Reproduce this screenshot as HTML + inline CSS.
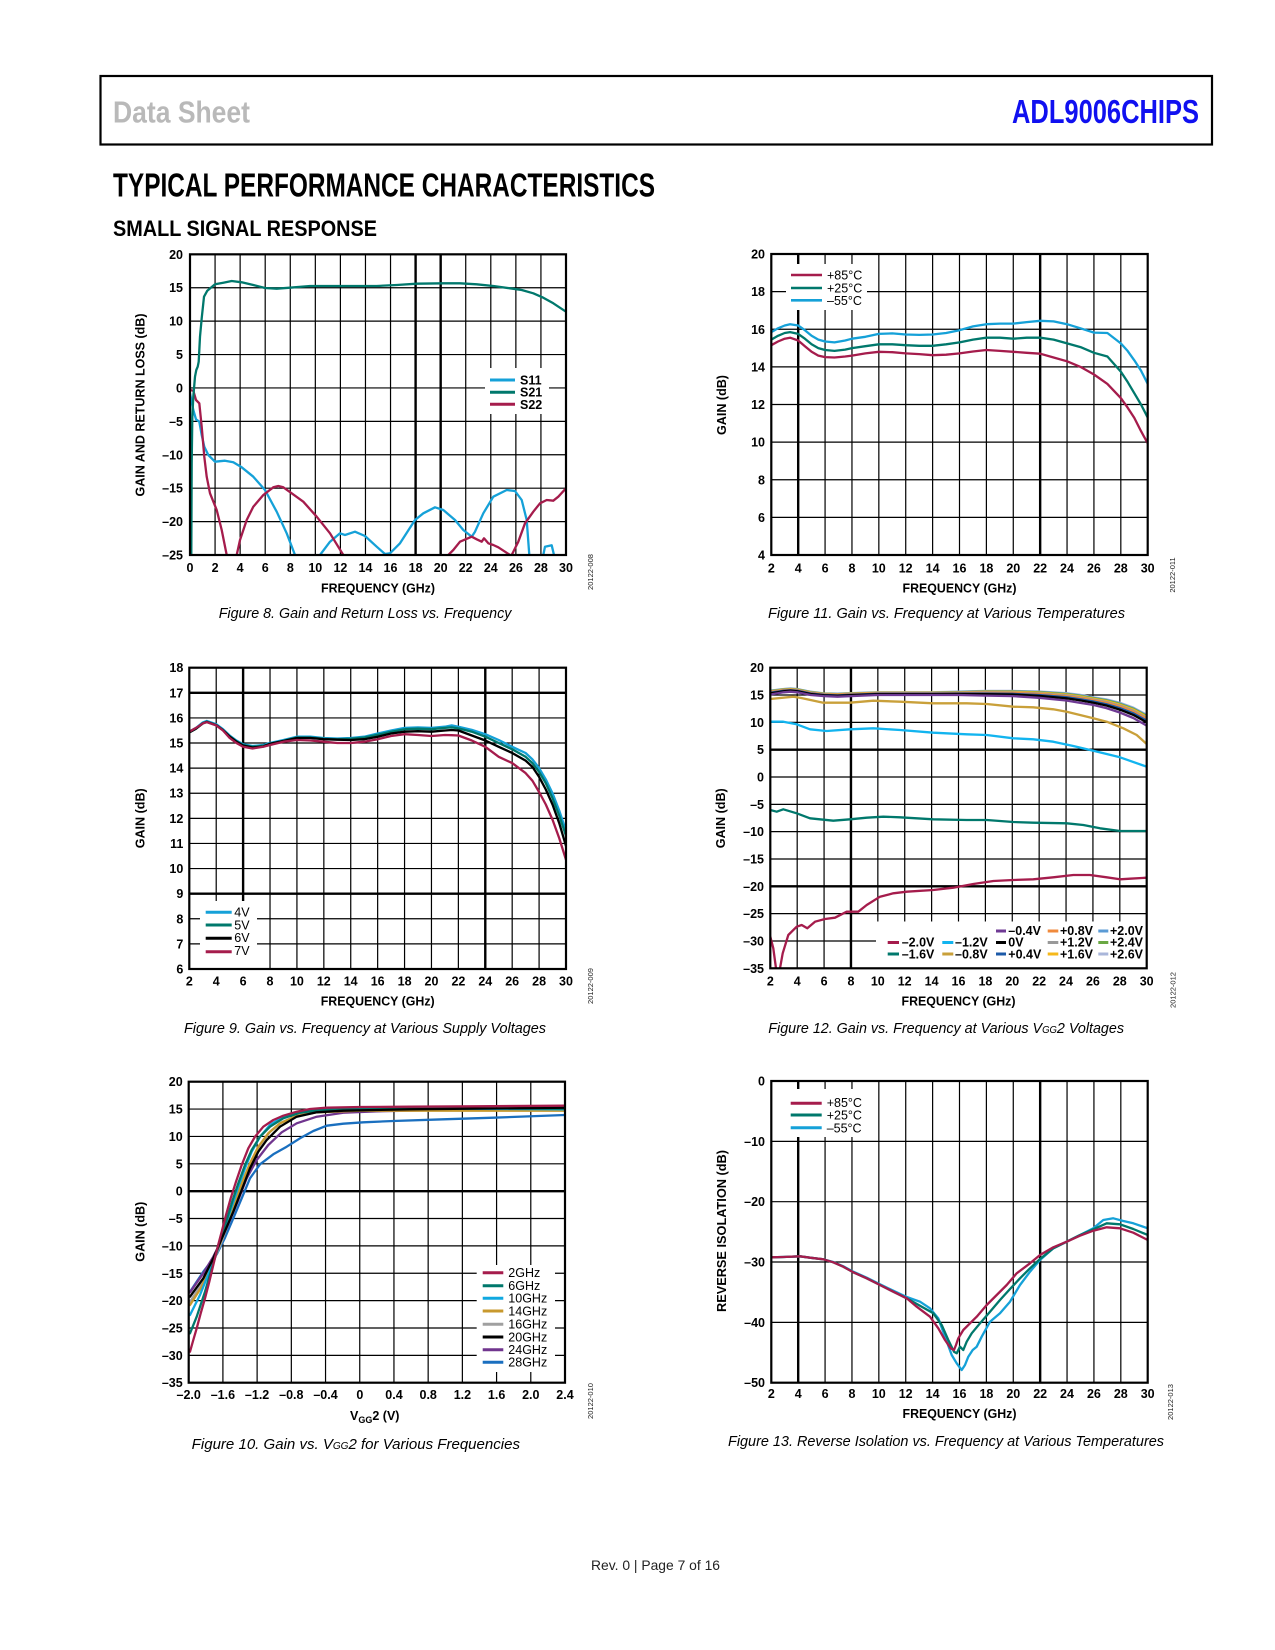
<!DOCTYPE html>
<html><head><meta charset="utf-8"><style>
html,body{margin:0;padding:0;background:#fff;}
svg{display:block;}
text{font-family:"Liberation Sans",Arial,sans-serif;fill:#000;}
.tk{font-size:12.5px;font-weight:bold;}
.ax{font-size:12.5px;font-weight:bold;}
.lg{font-size:12.5px;}
.lgb{font-size:12.5px;font-weight:bold;}
.cap{font-size:15px;font-style:italic;}
.fn{font-size:7.5px;fill:#222;}
.g{stroke:#000;stroke-width:1.2;fill:none;}
.gt{stroke:#000;stroke-width:2.4;fill:none;}
.bd{stroke:#000;stroke-width:2.2;fill:none;}
.c{fill:none;stroke-width:2.3;stroke-linejoin:round;stroke-linecap:round;}
</style></head><body>
<svg width="1275" height="1650" viewBox="0 0 1275 1650" xmlns="http://www.w3.org/2000/svg">
<defs>
<clipPath id="c8"><rect x="190" y="254.33" width="376" height="300.67"/></clipPath>
<clipPath id="c11"><rect x="771.3" y="254" width="376.4" height="301"/></clipPath>
<clipPath id="c9"><rect x="189.3" y="667.7" width="376.7" height="301.3"/></clipPath>
<clipPath id="c12"><rect x="770.3" y="667.7" width="376.4" height="300.6"/></clipPath>
<clipPath id="c10"><rect x="188.7" y="1081.7" width="376.3" height="301"/></clipPath>
<clipPath id="c13"><rect x="771.3" y="1081" width="376.4" height="301.7"/></clipPath>
</defs>
<rect width="1275" height="1650" fill="#fff"/>

<!-- Header -->
<rect x="100.5" y="76" width="1111.5" height="68.5" fill="none" stroke="#000" stroke-width="2.2"/>
<text x="113" y="122.5" style="font-size:31px;font-weight:bold;fill:#b9b9b9" textLength="137" lengthAdjust="spacingAndGlyphs">Data Sheet</text>
<text x="1012" y="123" style="font-size:33px;font-weight:bold;fill:#1010f0" textLength="187" lengthAdjust="spacingAndGlyphs">ADL9006CHIPS</text>
<text x="113" y="196.7" style="font-size:33px;font-weight:bold" textLength="542" lengthAdjust="spacingAndGlyphs">TYPICAL PERFORMANCE CHARACTERISTICS</text>
<text x="113" y="236" style="font-size:22px;font-weight:bold" textLength="264" lengthAdjust="spacingAndGlyphs">SMALL SIGNAL RESPONSE</text>

<!-- ================= Chart 8 ================= -->
<g class="g"><path d="M215.07 254.33V555M240.13 254.33V555M265.2 254.33V555M290.27 254.33V555M315.33 254.33V555M340.4 254.33V555M365.47 254.33V555M390.53 254.33V555M465.73 254.33V555M490.8 254.33V555M515.87 254.33V555M540.93 254.33V555M190 287.74H566M190 321.15H566M190 354.55H566M190 387.96H566M190 421.37H566M190 454.78H566M190 488.18H566M190 521.59H566"/></g>
<g class="gt"><path d="M415.6 254.33V555M440.67 254.33V555"/></g>
<rect x="485" y="368" width="64" height="46" fill="#fff"/>
<g clip-path="url(#c8)">
<polyline class="c" stroke="#15a1d8" points="190,393.3 193.3,410 196,419.3 199.3,421.7 201.7,435 204.3,446.7 208.3,455 215,461.7 225,460.7 233.3,462.3 241.7,467.3 253.3,476.7 265,490 276.7,511.7 286.7,533.3 295,555 307,575 320,555 330,541.7 340,533.3 345,535 355,531.7 365,536 376.7,546.7 385,554 390,553.3 400,543.3 415,520 423.3,513.3 435,507.3 443.3,510 455,520 463.3,530 471.7,536.7 475,531.7 483.3,513.3 493.3,496.7 506.7,490 515,491 521.7,500 526.7,520 529.3,555 536,580 543.3,555 545,546.7 551.7,545.3 554,555 556,570"/>
<polyline class="c" stroke="#a51c4c" points="190,390 193.3,390.7 196,400 199.3,403.3 201.7,426.7 204.3,456.7 206.7,476.7 210,493.3 216.7,510 221.7,530 226.7,555 231.7,575 236.7,555 240,540 246.7,520 253.3,506.7 263.3,495 273.3,487.3 278.3,486 283.3,487.3 291.7,493.3 303.3,501.7 316.7,516.7 330,533.3 343.3,555 395,600 448.3,555 453.3,550 460,541.7 471.7,536.7 476.7,539.3 481.7,541.7 484,538.3 488.3,543.3 493.3,545 498.3,547.3 505,551.7 510,555 511,558 511.7,555 518.3,541.7 525,523.3 533.3,511.7 540,503.3 546.7,500 553.3,500.7 558.3,496.7 566,488.3"/>
<polyline class="c" stroke="#00786c" points="191,580 191.3,555 191.7,463.3 192.3,416.7 193.3,396.7 195,376.7 196.3,370 197.7,366.7 198.7,361.7 200,336.7 201.7,318.3 204,296.7 207.3,290.7 215,284.3 223.3,282.7 231.7,281 241.7,282.3 253.3,285 265,288 276.7,288.7 290,287.7 310,286 343.3,286 376.7,286 396.7,285 416.7,283.7 443.3,283.3 460,283.3 476.7,284.3 493.3,286 510,288.3 521.7,290 533.3,293.3 543.3,297.7 553.3,303.3 566,311.7"/>
</g>
<g stroke-width="3"><path d="M490 380H515" stroke="#15a1d8"/><path d="M490 392.3H515" stroke="#00786c"/><path d="M490 404.3H515" stroke="#a51c4c"/></g>
<text class="lgb" x="520" y="384.5">S11</text><text class="lgb" x="520" y="396.7">S21</text><text class="lgb" x="520" y="409">S22</text>
<rect class="bd" x="190" y="254.33" width="376" height="300.67"/>
<g class="tk" text-anchor="end"><text x="183" y="258.8">20</text><text x="183" y="292.2">15</text><text x="183" y="325.7">10</text><text x="183" y="359.1">5</text><text x="183" y="392.5">0</text><text x="183" y="425.9">–5</text><text x="183" y="459.3">–10</text><text x="183" y="492.7">–15</text><text x="183" y="526.1">–20</text><text x="183" y="559.5">–25</text></g>
<g class="tk" text-anchor="middle"><text x="190" y="572">0</text><text x="215.1" y="572">2</text><text x="240.1" y="572">4</text><text x="265.2" y="572">6</text><text x="290.3" y="572">8</text><text x="315.3" y="572">10</text><text x="340.4" y="572">12</text><text x="365.5" y="572">14</text><text x="390.5" y="572">16</text><text x="415.6" y="572">18</text><text x="440.7" y="572">20</text><text x="465.7" y="572">22</text><text x="490.8" y="572">24</text><text x="515.9" y="572">26</text><text x="540.9" y="572">28</text><text x="566" y="572">30</text></g>
<text class="ax" x="378" y="592.3" text-anchor="middle" textLength="114" lengthAdjust="spacingAndGlyphs">FREQUENCY (GHz)</text>
<text class="ax" transform="translate(140,405) rotate(-90)" y="4.5" text-anchor="middle" textLength="183" lengthAdjust="spacingAndGlyphs">GAIN AND RETURN LOSS (dB)</text>
<text class="fn" transform="translate(590,572) rotate(-90)" y="3" text-anchor="middle">20122-008</text>
<text class="cap" x="218.7" y="618" textLength="292.7" lengthAdjust="spacingAndGlyphs">Figure 8. Gain and Return Loss vs. Frequency</text>

<!-- ================= Chart 11 ================= -->
<g class="g"><path d="M825.07 254V555M851.96 254V555M878.84 254V555M905.73 254V555M932.62 254V555M959.5 254V555M986.39 254V555M1013.27 254V555M1067.05 254V555M1093.93 254V555M1120.82 254V555M771.3 291.63H1147.7M771.3 329.25H1147.7M771.3 366.88H1147.7M771.3 404.5H1147.7M771.3 442.13H1147.7M771.3 479.75H1147.7M771.3 517.38H1147.7"/></g>
<g class="gt"><path d="M798.19 254V555M1040.16 254V555"/></g>
<rect x="786" y="264" width="81" height="46" fill="#fff"/>
<g clip-path="url(#c11)">
<polyline class="c" stroke="#15a1d8" points="771.3,332.1 778,328.3 784.7,325.5 790.1,324.2 798.2,325.5 804.9,330.2 811.6,335.8 818.3,339.6 825.1,341.5 834.5,342.4 845.2,340.5 852,338.7 865.4,336.8 878.8,333.9 892.3,333.4 905.7,334.5 919.2,334.9 932.6,334.5 946.1,333 959.5,330.2 973,326.4 986.4,324.2 999.9,323.6 1013.3,323.6 1026.7,322.1 1040.2,320.8 1053.6,321.4 1067.1,324.2 1080.5,328.3 1094,332.6 1107.4,333 1120.8,343.4 1127.6,350.9 1134.3,360.3 1141,370.6 1147.7,383.8"/>
<polyline class="c" stroke="#00786c" points="771.3,339.6 778,335.8 784.7,333 790.1,332.1 798.2,333.9 804.9,338.7 811.6,344.3 818.3,348.1 825.1,350 834.5,350.9 845.2,349.6 852,348.1 865.4,346.2 878.8,344.3 892.3,344.3 905.7,345.2 919.2,345.8 932.6,345.8 946.1,344.3 959.5,342.4 973,339.6 986.4,337.7 999.9,337.7 1013.3,338.7 1026.7,337.7 1040.2,337.7 1053.6,339.6 1067.1,343.4 1080.5,347.1 1094,352.8 1107.4,356.5 1120.8,371.6 1127.6,381.9 1134.3,393.2 1141,404.5 1147.7,417.6"/>
<polyline class="c" stroke="#a51c4c" points="771.3,345.2 778,341.5 784.7,338.7 790.1,337.7 798.2,340.5 804.9,346.2 811.6,351.8 818.3,355.6 825.1,357.1 834.5,357.5 845.2,356.5 852,355.6 865.4,353.4 878.8,351.8 892.3,352.2 905.7,353.4 919.2,354.1 932.6,355.2 946.1,354.7 959.5,353.4 973,351.5 986.4,350 999.9,350.9 1013.3,351.8 1026.7,352.8 1040.2,353.7 1053.6,357.5 1067.1,361.3 1080.5,366.9 1094,374.5 1107.4,383.9 1120.8,398.1 1127.6,407.6 1134.3,417.9 1141,431.1 1147.7,443.3"/>
</g>
<g stroke-width="2.6"><path d="M791 275H822" stroke="#a51c4c"/><path d="M791 288H822" stroke="#00786c"/><path d="M791 300.3H822" stroke="#15a1d8"/></g>
<text class="lg" x="827" y="279.5">+85°C</text><text class="lg" x="827" y="292.5">+25°C</text><text class="lg" x="827" y="305">–55°C</text>
<rect class="bd" x="771.3" y="254" width="376.4" height="301"/>
<g class="tk" text-anchor="end"><text x="765" y="258.5">20</text><text x="765" y="296.1">18</text><text x="765" y="333.8">16</text><text x="765" y="371.4">14</text><text x="765" y="409">12</text><text x="765" y="446.6">10</text><text x="765" y="484.3">8</text><text x="765" y="521.9">6</text><text x="765" y="559.5">4</text></g>
<g class="tk" text-anchor="middle"><text x="771.3" y="572.3">2</text><text x="798.2" y="572.3">4</text><text x="825.1" y="572.3">6</text><text x="852" y="572.3">8</text><text x="878.8" y="572.3">10</text><text x="905.7" y="572.3">12</text><text x="932.6" y="572.3">14</text><text x="959.5" y="572.3">16</text><text x="986.4" y="572.3">18</text><text x="1013.3" y="572.3">20</text><text x="1040.2" y="572.3">22</text><text x="1067" y="572.3">24</text><text x="1093.9" y="572.3">26</text><text x="1120.8" y="572.3">28</text><text x="1147.7" y="572.3">30</text></g>
<text class="ax" x="959.5" y="592.3" text-anchor="middle" textLength="114" lengthAdjust="spacingAndGlyphs">FREQUENCY (GHz)</text>
<text class="ax" transform="translate(721.7,405) rotate(-90)" y="4.5" text-anchor="middle" textLength="60" lengthAdjust="spacingAndGlyphs">GAIN (dB)</text>
<text class="fn" transform="translate(1172,575) rotate(-90)" y="3" text-anchor="middle">20122-011</text>
<text class="cap" x="768" y="618" textLength="357" lengthAdjust="spacingAndGlyphs">Figure 11. Gain vs. Frequency at Various Temperatures</text>

<!-- ================= Chart 9 ================= -->
<g class="g"><path d="M216.21 667.7V969M270.02 667.7V969M296.93 667.7V969M323.84 667.7V969M350.74 667.7V969M377.65 667.7V969M404.56 667.7V969M431.46 667.7V969M458.37 667.7V969M512.18 667.7V969M539.09 667.7V969M189.3 717.92H566M189.3 743.02H566M189.3 768.13H566M189.3 793.24H566M189.3 818.35H566M189.3 843.46H566M189.3 868.56H566M189.3 918.78H566M189.3 943.89H566"/></g>
<g class="gt"><path d="M243.11 667.7V969M485.28 667.7V969M189.3 692.81H566M189.3 893.67H566"/></g>
<rect x="200" y="901" width="57" height="67" fill="#fff"/>
<g clip-path="url(#c9)">
<polyline class="c" stroke="#15a1d8" points="189.3,731.7 196,727.9 202.8,722.4 206.8,720.9 216.2,724.2 223,729.2 229.7,735.5 236.4,740.5 243.1,744.3 252.5,746 263.3,745 270,743 283.5,740 296.9,736.7 310.4,736.7 323.8,738 337.3,738.5 350.7,738 364.2,736.7 377.7,733.5 391.1,730.5 404.6,727.9 418,727.4 431.5,727.9 444.9,726.7 451.7,725.4 458.4,726.7 471.8,729.9 485.3,734.2 498.7,740 512.2,746.8 525.6,753 532.4,759.3 539.1,768.1 545.8,779.4 552.5,793.2 559.3,810.8 566,830.9"/>
<polyline class="c" stroke="#00786c" points="189.3,732.5 196,728.7 202.8,723.2 206.8,721.7 216.2,725 223,730 229.7,736.3 236.4,741.3 243.1,745.1 252.5,746.8 263.3,745.8 270,743.8 283.5,740.8 296.9,737.5 310.4,737.5 323.8,738.8 337.3,739.3 350.7,738.8 364.2,737.5 377.7,734.8 391.1,731.7 404.6,729.2 418,728.7 431.5,729.2 444.9,727.9 451.7,727.4 458.4,728.4 471.8,731.7 485.3,736.7 498.7,743 512.2,749.3 525.6,756.8 532.4,763.1 539.1,771.9 545.8,783.2 552.5,798.2 559.3,815.8 566,835.9"/>
<polyline class="c" stroke="#000" points="189.3,732.4 196,728.6 202.8,723.4 206.8,721.9 216.2,725.2 223,730.2 229.7,736.7 236.4,741.7 243.1,745.5 252.5,747.5 263.3,746.5 270,743.8 283.5,741 296.9,738 310.4,738 323.8,739.2 337.3,739.7 350.7,740 364.2,739.2 377.7,736.7 391.1,733.5 404.6,731.7 418,731.2 431.5,731.7 444.9,730.5 451.7,730 458.4,730.5 471.8,735.5 485.3,740.5 498.7,746.8 512.2,753 525.6,760.6 532.4,766.9 539.1,776.9 545.8,789.5 552.5,804.5 559.3,823.3 566,846"/>
<polyline class="c" stroke="#a51c4c" points="189.3,731.7 196,727.9 202.8,723.4 206.8,722.2 216.2,725.4 223,730.5 229.7,738 236.4,743 243.1,746.8 252.5,748.5 263.3,746.8 270,745 283.5,741.7 296.9,740 310.4,740.5 323.8,741.7 337.3,743 350.7,743 364.2,741.7 377.7,739.2 391.1,736 404.6,734.2 418,735 431.5,736 444.9,735 451.7,735.2 458.4,735.5 471.8,740.5 485.3,746.8 498.7,756.8 512.2,763.1 525.6,773.1 532.4,780.7 539.1,792 545.8,804.5 552.5,819.6 559.3,838.4 566,859.8"/>
</g>
<g stroke-width="3"><path d="M205.7 912.3H231.7" stroke="#15a1d8"/><path d="M205.7 925H231.7" stroke="#00786c"/><path d="M205.7 938.3H231.7" stroke="#000"/><path d="M205.7 951.7H231.7" stroke="#a51c4c"/></g>
<text class="lg" x="234.3" y="916.7">4V</text><text class="lg" x="234.3" y="929.3">5V</text><text class="lg" x="234.3" y="942">6V</text><text class="lg" x="234.3" y="955">7V</text>
<rect class="bd" x="189.3" y="667.7" width="376.7" height="301.3"/>
<g class="tk" text-anchor="end"><text x="183.3" y="672.2">18</text><text x="183.3" y="697.3">17</text><text x="183.3" y="722.4">16</text><text x="183.3" y="747.5">15</text><text x="183.3" y="772.6">14</text><text x="183.3" y="797.7">13</text><text x="183.3" y="822.8">12</text><text x="183.3" y="848">11</text><text x="183.3" y="873.1">10</text><text x="183.3" y="898.2">9</text><text x="183.3" y="923.3">8</text><text x="183.3" y="948.4">7</text><text x="183.3" y="973.5">6</text></g>
<g class="tk" text-anchor="middle"><text x="189.3" y="985.7">2</text><text x="216.2" y="985.7">4</text><text x="243.1" y="985.7">6</text><text x="270" y="985.7">8</text><text x="296.9" y="985.7">10</text><text x="323.8" y="985.7">12</text><text x="350.7" y="985.7">14</text><text x="377.7" y="985.7">16</text><text x="404.6" y="985.7">18</text><text x="431.5" y="985.7">20</text><text x="458.4" y="985.7">22</text><text x="485.3" y="985.7">24</text><text x="512.2" y="985.7">26</text><text x="539.1" y="985.7">28</text><text x="566" y="985.7">30</text></g>
<text class="ax" x="377.7" y="1005.7" text-anchor="middle" textLength="114" lengthAdjust="spacingAndGlyphs">FREQUENCY (GHz)</text>
<text class="ax" transform="translate(140,818.3) rotate(-90)" y="4.5" text-anchor="middle" textLength="60" lengthAdjust="spacingAndGlyphs">GAIN (dB)</text>
<text class="fn" transform="translate(590,986) rotate(-90)" y="3" text-anchor="middle">20122-009</text>
<text class="cap" x="184" y="1033" textLength="362" lengthAdjust="spacingAndGlyphs">Figure 9. Gain vs. Frequency at Various Supply Voltages</text>

<!-- ================= Chart 12 ================= -->
<g class="g"><path d="M797.19 667.7V968.3M824.07 667.7V968.3M877.84 667.7V968.3M904.73 667.7V968.3M931.62 667.7V968.3M958.5 667.7V968.3M985.39 667.7V968.3M1012.27 667.7V968.3M1039.16 667.7V968.3M1066.05 667.7V968.3M1092.93 667.7V968.3M1119.82 667.7V968.3M770.3 695.03H1146.7M770.3 722.35H1146.7M770.3 777.01H1146.7M770.3 804.34H1146.7M770.3 831.66H1146.7M770.3 858.99H1146.7M770.3 913.64H1146.7M770.3 940.97H1146.7"/></g>
<g class="gt"><path d="M850.96 667.7V968.3M770.3 749.68H1146.7M770.3 886.32H1146.7"/></g>
<rect x="876" y="921.5" width="270.7" height="46.8" fill="#fff"/>
<g clip-path="url(#c12)">
<polyline class="c" stroke="#a51c4c" points="770.3,936.7 773.3,948.3 776,968.3 777.7,985 780,968.3 782.7,953.3 788.3,935 796.7,926.7 801.7,925 807.3,928.3 815,921.7 825,919 835,917.7 846.7,911.7 858.3,911.7 866.7,905 880,896.7 893.3,893.3 906.7,891.7 933.3,890 953.3,887.7 973.3,884 993.3,881 1013.3,880 1033.3,879.3 1053.3,877.3 1073.3,875 1090,875 1106.7,877.3 1120,879.3 1130,878.7 1146.7,877.7"/>
<polyline class="c" stroke="#00786c" points="770.3,810 776.7,811.7 783.3,809.3 796.7,813.3 810,818.3 833.3,820.7 850,819.3 866.7,817.7 883.3,816.7 900,817.3 933.3,819.3 966.7,820 986.7,820 1013.3,822 1033.3,822.7 1066.7,823.3 1083.3,825 1100,828.3 1120,831 1146.7,831"/>
<polyline class="c" stroke="#12b4ef" stroke-width="2.6" points="770.3,721.7 783.3,721.7 796.7,724.3 810,729.3 826.7,731 850,729.3 873.3,728.3 900,730 933.3,732.7 966.7,734.3 986.7,735 1013.3,738.3 1033.3,739.3 1053.3,741.7 1073.3,746 1093.3,750.7 1120,757.3 1146.7,766.7"/>
<polyline class="c" stroke="#c9a03a" stroke-width="2.6" points="770.3,699 793.3,696.7 800,697.7 823.3,702.7 850,702.7 873.3,700.7 900,701.7 933.3,703.3 966.7,703.3 986.7,704 1013.3,706.7 1033.3,707.3 1053.3,709.3 1066.7,711.7 1093.3,718.3 1106.7,721.7 1123.3,728.3 1136.7,735 1146.7,744"/>
<polyline class="c" stroke="#a9b6da" stroke-width="3.4" points="770.3,690.7 783.7,689 790.5,688.5 797.2,689 810.6,691.7 824.1,693.4 837.5,693.7 851,693.1 877.8,692.3 904.7,692.3 931.6,692.3 958.5,691.7 985.4,690.9 1012.3,690.9 1039.2,691.5 1066.1,693.1 1079.5,694.8 1093,697.2 1106.4,699.4 1119.8,702.7 1133.3,707.6 1146.7,714.7"/>
<polyline class="c" stroke="#5b9bd5" stroke-width="2" points="770.3,690.9 783.7,689.2 790.5,688.7 797.2,689.2 810.6,691.9 824.1,693.6 837.5,693.9 851,693.3 877.8,692.5 904.7,692.5 931.6,692.5 958.5,691.9 985.4,691.2 1012.3,691.3 1039.2,691.9 1066.1,693.6 1079.5,695.4 1093,697.7 1106.4,700 1119.8,703.4 1133.3,708.3 1146.7,715.5"/>
<polyline class="c" stroke="#6aa843" stroke-width="2" points="770.3,691.2 783.7,689.4 790.5,688.9 797.2,689.4 810.6,692.1 824.1,693.7 837.5,694.1 851,693.5 877.8,692.6 904.7,692.6 931.6,692.6 958.5,692.1 985.4,691.5 1012.3,691.5 1039.2,692.3 1066.1,694 1079.5,695.7 1093,698.1 1106.4,700.4 1119.8,703.9 1133.3,708.8 1146.7,716"/>
<polyline class="c" stroke="#f6b81a" stroke-width="2" points="770.3,691.5 783.7,689.7 790.5,689.1 797.2,689.7 810.6,692.4 824.1,693.9 837.5,694.3 851,693.7 877.8,692.8 904.7,692.8 931.6,692.8 958.5,692.4 985.4,691.8 1012.3,691.9 1039.2,692.8 1066.1,694.6 1079.5,696.4 1093,698.7 1106.4,701.1 1119.8,704.7 1133.3,709.7 1146.7,716.9"/>
<polyline class="c" stroke="#999999" stroke-width="2" points="770.3,691.8 783.7,690 790.5,689.5 797.2,690 810.6,692.7 824.1,694.2 837.5,694.6 851,694 877.8,693.1 904.7,693.1 931.6,693.1 958.5,692.7 985.4,692.3 1012.3,692.5 1039.2,693.4 1066.1,695.3 1079.5,697.2 1093,699.5 1106.4,702 1119.8,705.6 1133.3,710.7 1146.7,718"/>
<polyline class="c" stroke="#f08a3c" stroke-width="2" points="770.3,692.2 783.7,690.3 790.5,689.8 797.2,690.3 810.6,693 824.1,694.5 837.5,694.9 851,694.3 877.8,693.4 904.7,693.4 931.6,693.4 958.5,693 985.4,692.8 1012.3,693 1039.2,694 1066.1,696.1 1079.5,698 1093,700.3 1106.4,702.9 1119.8,706.6 1133.3,711.8 1146.7,719.1"/>
<polyline class="c" stroke="#1c5aa8" stroke-width="2" points="770.3,692.8 783.7,690.8 790.5,690.3 797.2,690.8 810.6,693.5 824.1,694.9 837.5,695.4 851,694.8 877.8,693.8 904.7,693.8 931.6,693.8 958.5,693.5 985.4,693.5 1012.3,693.8 1039.2,695 1066.1,697.2 1079.5,699.1 1093,701.4 1106.4,704.2 1119.8,708.1 1133.3,713.3 1146.7,720.7"/>
<polyline class="c" stroke="#000" stroke-width="2" points="770.3,693.4 783.7,691.3 790.5,690.7 797.2,691.3 810.6,694 824.1,695.3 837.5,695.8 851,695.2 877.8,694.2 904.7,694.2 931.6,694.2 958.5,694 985.4,694.2 1012.3,694.5 1039.2,695.9 1066.1,698.3 1079.5,700.3 1093,702.6 1106.4,705.5 1119.8,709.6 1133.3,714.9 1146.7,722.3"/>
<polyline class="c" stroke="#6f3a94" stroke-width="2.3" points="770.3,694.5 783.7,692.3 790.5,691.7 797.2,692.3 810.6,695 824.1,696.1 837.5,696.7 851,696.1 877.8,695 904.7,695 931.6,695 958.5,695 985.4,695.6 1012.3,696.1 1039.2,697.8 1066.1,700.5 1079.5,702.7 1093,704.9 1106.4,708.1 1119.8,712.5 1133.3,718 1146.7,725.6"/>
</g>
<g stroke-width="3">
<path d="M996 931H1006" stroke="#6f3a94"/><path d="M1047.7 931H1058.3" stroke="#f08a3c"/><path d="M1098.3 931H1108.3" stroke="#5b9bd5"/>
<path d="M887.7 942.5H899" stroke="#a51c4c"/><path d="M942.3 942.5H953.3" stroke="#12b4ef"/><path d="M996 942.5H1006" stroke="#000"/><path d="M1047.7 942.5H1058.3" stroke="#999"/><path d="M1098.3 942.5H1108.3" stroke="#6aa843"/>
<path d="M887.7 954H899" stroke="#00786c"/><path d="M942.3 954H953.3" stroke="#c9a03a"/><path d="M996 954H1006" stroke="#1c5aa8"/><path d="M1047.7 954H1058.3" stroke="#f6b81a"/><path d="M1098.3 954H1108.3" stroke="#a9b6da"/>
</g>
<g class="lgb">
<text x="1008.3" y="935">–0.4V</text><text x="1060" y="935">+0.8V</text><text x="1110" y="935">+2.0V</text>
<text x="901.7" y="946.7">–2.0V</text><text x="955" y="946.7">–1.2V</text><text x="1008.3" y="946.7">0V</text><text x="1060" y="946.7">+1.2V</text><text x="1110" y="946.7">+2.4V</text>
<text x="901.7" y="958.3">–1.6V</text><text x="955" y="958.3">–0.8V</text><text x="1008.3" y="958.3">+0.4V</text><text x="1060" y="958.3">+1.6V</text><text x="1110" y="958.3">+2.6V</text>
</g>
<rect class="bd" x="770.3" y="667.7" width="376.4" height="300.6"/>
<g class="tk" text-anchor="end"><text x="764" y="672.2">20</text><text x="764" y="699.5">15</text><text x="764" y="726.9">10</text><text x="764" y="754.2">5</text><text x="764" y="781.5">0</text><text x="764" y="808.8">–5</text><text x="764" y="836.2">–10</text><text x="764" y="863.5">–15</text><text x="764" y="890.8">–20</text><text x="764" y="918.1">–25</text><text x="764" y="945.5">–30</text><text x="764" y="972.8">–35</text></g>
<g class="tk" text-anchor="middle"><text x="770.3" y="985.7">2</text><text x="797.2" y="985.7">4</text><text x="824.1" y="985.7">6</text><text x="851" y="985.7">8</text><text x="877.8" y="985.7">10</text><text x="904.7" y="985.7">12</text><text x="931.6" y="985.7">14</text><text x="958.5" y="985.7">16</text><text x="985.4" y="985.7">18</text><text x="1012.3" y="985.7">20</text><text x="1039.2" y="985.7">22</text><text x="1066" y="985.7">24</text><text x="1092.9" y="985.7">26</text><text x="1119.8" y="985.7">28</text><text x="1146.7" y="985.7">30</text></g>
<text class="ax" x="958.5" y="1005.7" text-anchor="middle" textLength="114" lengthAdjust="spacingAndGlyphs">FREQUENCY (GHz)</text>
<text class="ax" transform="translate(720.7,818.3) rotate(-90)" y="4.5" text-anchor="middle" textLength="60" lengthAdjust="spacingAndGlyphs">GAIN (dB)</text>
<text class="fn" transform="translate(1172.7,990) rotate(-90)" y="3" text-anchor="middle">20122-012</text>
<text class="cap" x="768.3" y="1033" textLength="355.7" lengthAdjust="spacingAndGlyphs">Figure 12. Gain vs. Frequency at Various V<tspan style="font-size:10px">GG</tspan>2 Voltages</text>

<!-- ================= Chart 10 ================= -->
<g class="g"><path d="M222.91 1081.7V1382.7M257.12 1081.7V1382.7M291.33 1081.7V1382.7M325.54 1081.7V1382.7M359.75 1081.7V1382.7M393.95 1081.7V1382.7M428.16 1081.7V1382.7M462.37 1081.7V1382.7M496.58 1081.7V1382.7M530.79 1081.7V1382.7M188.7 1109.06H565M188.7 1136.43H565M188.7 1163.79H565M188.7 1218.52H565M188.7 1245.88H565M188.7 1273.25H565M188.7 1300.61H565M188.7 1327.98H565M188.7 1355.34H565"/></g>
<g class="gt"><path d="M188.7 1191.15H565"/></g>
<rect x="476.7" y="1265" width="78.3" height="107" fill="#fff"/>
<g clip-path="url(#c10)" stroke-width="2.8">
<polyline class="c" stroke-width="2.8" stroke="#1a6fbf" points="190,1291.7 203.3,1271.7 216.7,1254.3 225,1237.7 233.3,1218.3 241.7,1198.3 250,1178.3 260,1164.3 273.3,1154.3 286.7,1146.7 300,1138.3 313.3,1131 326.7,1125.7 343.3,1123.7 363.3,1122.3 393.3,1121 443.3,1119.3 493.3,1117.7 565,1115"/>
<polyline class="c" stroke-width="2.8" stroke="#70358e" points="190,1292.3 203.3,1273.3 213.3,1256.7 221.7,1240 230,1220 238.3,1200 246.7,1178.3 256.7,1160 268.3,1145 281.7,1132.3 296.7,1123.3 316.7,1116.7 343.3,1112.7 376.7,1111.3 443.3,1110 565,1107.7"/>
<polyline class="c" stroke-width="2.8" stroke="#a0a0a0" points="190,1301.7 203.3,1281.7 213.3,1261.7 221.7,1241.7 230,1218.3 236.7,1200 243.3,1181.7 251.7,1161.7 260,1145 270,1131.7 281.7,1122.3 298.3,1115 320,1111.7 360,1110 565,1109"/>
<polyline class="c" stroke-width="2.8" stroke="#c8992e" points="190,1305 201.7,1286.7 211.7,1263.3 220,1243.3 228.3,1220 235,1201.7 241.7,1183.3 250,1163.3 258.3,1146.7 268.3,1133.3 280,1123.3 296.7,1116 316.7,1112.3 360,1110.7 565,1110.7"/>
<polyline class="c" stroke-width="2.8" stroke="#10a8e0" points="190,1315 200,1295 210,1270 218.3,1246.7 225,1226.7 231.7,1206.7 238.3,1186.7 245,1168.3 251.7,1151.7 260,1136.7 270,1125 283.3,1116.7 303.3,1111.7 326.7,1109.3 376.7,1108.3 565,1109.3"/>
<polyline class="c" stroke-width="2.8" stroke="#00786c" points="190,1333.3 196.7,1316.7 205,1291.7 213.3,1263.3 220,1241.7 226.7,1220 232.7,1200 238.3,1183.3 245,1165 251.7,1150 260,1136.7 270,1126.7 283.3,1118.3 300,1112.7 320,1110 360,1108.7 443.3,1108.3 565,1108.7"/>
<polyline class="c" stroke-width="3" stroke="#000" points="190,1296.7 203.3,1278.3 213.3,1258.3 223.3,1235 233.3,1211.7 241.7,1190 250,1168.3 258.3,1151.7 266.7,1140 280,1126.7 296.7,1116.7 316.7,1112.3 343.3,1110.7 410,1109.3 565,1107.7"/>
<polyline class="c" stroke-width="2.8" stroke="#a51c4c" points="190,1351.7 193.3,1340 196.7,1328.3 200.7,1313.3 205,1298.3 209.3,1281.7 213.3,1265 217.3,1248.3 221.7,1231.7 226,1215 230.7,1198.3 236,1181.7 241.7,1165 248.3,1148.3 255,1136.7 263.3,1126.7 273.3,1120 283.3,1115.7 296.7,1111.7 310,1109 326.7,1107.7 360,1107 410,1106.7 476.7,1106.3 565,1105.7"/>
</g>
<g stroke-width="3"><path d="M482.7 1272.7H503.3" stroke="#a51c4c"/><path d="M482.7 1285.7H503.3" stroke="#00786c"/><path d="M482.7 1298.3H503.3" stroke="#10a8e0"/><path d="M482.7 1311H503.3" stroke="#c8992e"/><path d="M482.7 1324.3H503.3" stroke="#a0a0a0"/><path d="M482.7 1337H503.3" stroke="#000"/><path d="M482.7 1349.7H503.3" stroke="#70358e"/><path d="M482.7 1362.3H503.3" stroke="#1a6fbf"/></g>
<g class="lg"><text x="508.3" y="1277">2GHz</text><text x="508.3" y="1290">6GHz</text><text x="508.3" y="1302.7">10GHz</text><text x="508.3" y="1315.3">14GHz</text><text x="508.3" y="1328.6">16GHz</text><text x="508.3" y="1341.3">20GHz</text><text x="508.3" y="1354">24GHz</text><text x="508.3" y="1366.6">28GHz</text></g>
<rect class="bd" x="188.7" y="1081.7" width="376.3" height="301"/>
<g class="tk" text-anchor="end"><text x="182.7" y="1086.2">20</text><text x="182.7" y="1113.6">15</text><text x="182.7" y="1140.9">10</text><text x="182.7" y="1168.3">5</text><text x="182.7" y="1195.7">0</text><text x="182.7" y="1223">–5</text><text x="182.7" y="1250.4">–10</text><text x="182.7" y="1277.8">–15</text><text x="182.7" y="1305.1">–20</text><text x="182.7" y="1332.5">–25</text><text x="182.7" y="1359.8">–30</text><text x="182.7" y="1387.2">–35</text></g>
<g class="tk" text-anchor="middle"><text x="188.7" y="1399">–2.0</text><text x="222.9" y="1399">–1.6</text><text x="257.1" y="1399">–1.2</text><text x="291.3" y="1399">–0.8</text><text x="325.5" y="1399">–0.4</text><text x="359.8" y="1399">0</text><text x="394" y="1399">0.4</text><text x="428.2" y="1399">0.8</text><text x="462.4" y="1399">1.2</text><text x="496.6" y="1399">1.6</text><text x="530.8" y="1399">2.0</text><text x="565" y="1399">2.4</text></g>
<text class="ax" x="350" y="1420">V<tspan style="font-size:9px" dy="3">GG</tspan><tspan dy="-3">2 (V)</tspan></text>
<text class="ax" transform="translate(140,1231.7) rotate(-90)" y="4.5" text-anchor="middle" textLength="60" lengthAdjust="spacingAndGlyphs">GAIN (dB)</text>
<text class="fn" transform="translate(590,1401) rotate(-90)" y="3" text-anchor="middle">20122-010</text>
<text class="cap" x="191.7" y="1449" textLength="328.3" lengthAdjust="spacingAndGlyphs">Figure 10. Gain vs. V<tspan style="font-size:10px">GG</tspan>2 for Various Frequencies</text>

<!-- ================= Chart 13 ================= -->
<g class="g"><path d="M825.07 1081V1382.7M851.96 1081V1382.7M878.84 1081V1382.7M905.73 1081V1382.7M932.62 1081V1382.7M959.5 1081V1382.7M986.39 1081V1382.7M1013.27 1081V1382.7M1067.05 1081V1382.7M1093.93 1081V1382.7M1120.82 1081V1382.7M771.3 1141.34H1147.7M771.3 1201.68H1147.7M771.3 1262.02H1147.7M771.3 1322.36H1147.7"/></g>
<g class="gt"><path d="M798.19 1081V1382.7M1040.16 1081V1382.7"/></g>
<rect x="786" y="1089" width="81" height="48" fill="#fff"/>
<g clip-path="url(#c13)">
<polyline class="c" stroke="#15a1d8" points="771.3,1257.3 783.3,1257 800,1256.3 810,1257.7 823.3,1259.3 833.3,1262 843.3,1266.3 853.3,1271.7 866.7,1277.7 880,1284.3 893.3,1290.7 906.7,1297 920,1301.7 930,1308.3 938.3,1318.3 945,1336.7 951.7,1355 956.7,1363.3 961.7,1370 965,1365 968.3,1356.7 972.7,1350 976.7,1346.7 981.7,1336.7 990,1321.7 1000,1313.3 1010,1301.7 1020,1285 1030,1271.7 1040,1260 1053.3,1248.3 1066.7,1241.7 1080,1235 1093.3,1228.3 1103.3,1220 1113.3,1218.3 1123.3,1221 1133.3,1223.3 1147.7,1228.3"/>
<polyline class="c" stroke="#00786c" points="771.3,1257.3 783.3,1257 800,1256.3 810,1257.7 823.3,1259.3 833.3,1262.3 843.3,1266.7 853.3,1272.3 866.7,1278.3 880,1285 893.3,1291.7 906.7,1298.3 920,1305.7 933.3,1313.3 941.7,1325 948.3,1340 954,1351.7 956.7,1353.3 960,1346.7 963.3,1350 966.7,1341.7 971.7,1333.3 980,1323.3 990,1311.7 1000,1300 1010,1289 1020,1278.3 1030,1268.3 1040,1259 1053.3,1248.3 1066.7,1241.7 1080,1235 1093.3,1229.3 1106.7,1223.3 1120,1224.3 1133.3,1229 1147.7,1235"/>
<polyline class="c" stroke="#a51c4c" points="771.3,1257.3 783.3,1257 800,1256.3 810,1257.7 823.3,1259.3 833.3,1262.3 843.3,1266.7 853.3,1272.3 866.7,1278.3 880,1285 893.3,1291.7 906.7,1298.3 916.7,1306.7 930,1316.7 938.3,1328.3 945,1340 950.7,1348.3 954,1350 956,1345 958.3,1338.3 963.3,1330 970,1323.3 976.7,1316.7 986.7,1305 996.7,1295 1006.7,1285 1016.7,1273.3 1030,1263.3 1040,1255 1053.3,1247.3 1066.7,1241.7 1080,1235.7 1093.3,1230.7 1106.7,1227.3 1120,1228.3 1133.3,1232.7 1147.7,1240"/>
</g>
<g stroke-width="3"><path d="M790.7 1103.3H821.7" stroke="#a51c4c"/><path d="M790.7 1115H821.7" stroke="#00786c"/><path d="M790.7 1127.7H821.7" stroke="#15a1d8"/></g>
<text class="lg" x="826.7" y="1107">+85°C</text><text class="lg" x="826.7" y="1119.7">+25°C</text><text class="lg" x="826.7" y="1132.3">–55°C</text>
<rect class="bd" x="771.3" y="1081" width="376.4" height="301.7"/>
<g class="tk" text-anchor="end"><text x="765" y="1085.5">0</text><text x="765" y="1145.8">–10</text><text x="765" y="1206.2">–20</text><text x="765" y="1266.5">–30</text><text x="765" y="1326.9">–40</text><text x="765" y="1387.2">–50</text></g>
<g class="tk" text-anchor="middle"><text x="771.3" y="1398">2</text><text x="798.2" y="1398">4</text><text x="825.1" y="1398">6</text><text x="852" y="1398">8</text><text x="878.8" y="1398">10</text><text x="905.7" y="1398">12</text><text x="932.6" y="1398">14</text><text x="959.5" y="1398">16</text><text x="986.4" y="1398">18</text><text x="1013.3" y="1398">20</text><text x="1040.2" y="1398">22</text><text x="1067" y="1398">24</text><text x="1093.9" y="1398">26</text><text x="1120.8" y="1398">28</text><text x="1147.7" y="1398">30</text></g>
<text class="ax" x="959.5" y="1418" text-anchor="middle" textLength="114" lengthAdjust="spacingAndGlyphs">FREQUENCY (GHz)</text>
<text class="ax" transform="translate(721.7,1231) rotate(-90)" y="4.5" text-anchor="middle" textLength="162" lengthAdjust="spacingAndGlyphs">REVERSE ISOLATION (dB)</text>
<text class="fn" transform="translate(1170,1402) rotate(-90)" y="3" text-anchor="middle">20122-013</text>
<text class="cap" x="728" y="1446" textLength="436" lengthAdjust="spacingAndGlyphs">Figure 13. Reverse Isolation vs. Frequency at Various Temperatures</text>

<!-- Footer -->
<text x="591" y="1570" style="font-size:14px;fill:#222" textLength="129" lengthAdjust="spacingAndGlyphs">Rev. 0 | Page 7 of 16</text>
</svg>
</body></html>
